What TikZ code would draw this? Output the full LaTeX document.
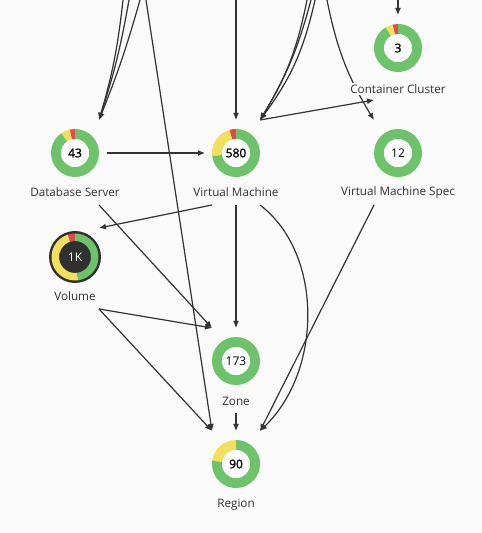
\documentclass[tikz,border=0pt]{standalone}
\usepackage{fontspec}
\setmainfont{Open Sans}
\newfontfamily\semib[FakeBold=1.6]{Open Sans}
\usetikzlibrary{arrows.meta,calc}
\definecolor{bg}{HTML}{FAFAFA}
\definecolor{gr}{HTML}{6CC36A}
\definecolor{ye}{HTML}{F2DF5B}
\definecolor{rd}{HTML}{E24A4A}
\definecolor{ink}{HTML}{333333}
\definecolor{dk}{HTML}{303030}
% annular sector: node, start angle, end angle, colour, outer r, inner r
\newcommand\dseg[6]{%
  \fill[#4] ($(#1.center)+(#2:#5)$) arc[start angle=#2,end angle=#3,radius=#5]
    -- ($(#1.center)+(#3:#6)$) arc[start angle=#3,end angle=#2,radius=#6] -- cycle;}
\tikzset{
  dn/.style={circle,minimum size=48pt,inner sep=0pt,outer sep=0pt},
  bx/.style={rectangle,minimum width=48pt,minimum height=85pt,inner sep=0pt,outer sep=0pt},
  lbl/.style={fill=bg,text=ink,font=\fontsize{11.7pt}{13pt}\selectfont,inner sep=1.5pt},
  num/.style={text=black,font=\fontsize{12pt}{14pt}\selectfont,inner sep=0pt},
  numb/.style={num,font=\fontsize{12pt}{14pt}\semib},
  edge/.style={draw=ink,line width=1.2pt,-{Latex[length=7pt,width=6pt]}},
}
\begin{document}
\begin{tikzpicture}[x=1pt,y=1pt]
\useasboundingbox (0,0) rectangle (482,533);
\fill[bg] (0,0) rectangle (482,533);
\clip (0,0) rectangle (482,533);
% donut positions
\node[dn] (ccd) at (398,485) {};
\node[dn] (dbd) at (75,380) {};
\node[dn] (vmd) at (236,380) {};
\node[dn] (vmsd) at (398,380) {};
\node[dn] (vold) at (75,276) {};
\node[dn] (zoned) at (236,172) {};
\node[dn] (regiond) at (236,69) {};
% connection boxes
\node[bx] (cc) at (398,475.5) {};
\node[bx] (db) at (75,370.5) {};
\node[bx] (vm) at (236,370.5) {};
\node[bx] (vms) at (398,370.5) {};
\node[bx] (vol) at (75,266.5) {};
\node[bx] (zone) at (236,162.5) {};
\node[bx] (region) at (236,59.5) {};
% off-picture sources
\coordinate (s1) at (123,533);
\coordinate (s2) at (129,533);
\coordinate (s3) at (140,533);
\coordinate (s4) at (146,533);
\coordinate (s5) at (236,533);
\coordinate (s6) at (307,533);
\coordinate (s7) at (311,533);
\coordinate (s8) at (315,533);
\coordinate (s9) at (327,533);
\coordinate (s10) at (398,533);
% edges
\draw[edge] (s1) to[bend left=5] (db.north east);
\draw[edge] (s2) to[bend left=4] (db.north east);
\draw[edge] (s3) to[bend left=3] (db.north east);
\draw[edge] (s4) -- (region.north west);
\draw[edge] (s5) -- (vm.north);
\draw[edge] (s6) to[bend left=10] (vm.north east);
\draw[edge] (s7) to[bend left=8] (vm.north east);
\draw[edge] (s8) to[bend left=12] (vm.north east);
\draw[edge] (s9) to[bend right=10] (vms.north west);
\draw[edge] (s10) -- (cc.north);
\draw[edge] (vm.north east) -- (cc.south west);
\draw[edge,shorten <=8pt,shorten >=7pt] (dbd.east) -- (vmd.west);
\draw[edge] (vm.south west) -- ([yshift=-4pt]vol.north east);
\draw[edge] (db.south east) -- (zone.north west);
\draw[edge] (vm.south) -- (zone.north);
\draw[edge] (vol.south east) -- (zone.north west);
\draw[edge] (vol.south east) -- (region.north west);
\draw[edge] (zone.south) -- (region.north);
\draw[edge] (vm.south east) .. controls +(63,-48) and +(63,61) .. (region.north east);
\draw[edge] (vms.south west) -- (region.north east);
% donuts
\dseg{dbd}{90}{103}{rd}{24pt}{14pt}
\dseg{dbd}{103}{125}{ye}{24pt}{14pt}
\dseg{dbd}{125}{450}{gr}{24pt}{14pt}
\fill[white] (dbd.center) circle[radius=14pt];
\dseg{vmd}{90}{106}{rd}{24pt}{14pt}
\dseg{vmd}{106}{188}{ye}{24pt}{14pt}
\dseg{vmd}{188}{450}{gr}{24pt}{14pt}
\fill[white] (vmd.center) circle[radius=14pt];
\dseg{ccd}{90}{103}{rd}{24pt}{14pt}
\dseg{ccd}{103}{121}{ye}{24pt}{14pt}
\dseg{ccd}{121}{450}{gr}{24pt}{14pt}
\fill[white] (ccd.center) circle[radius=14pt];
\dseg{vmsd}{90}{450}{gr}{24pt}{14pt}
\fill[white] (vmsd.center) circle[radius=14pt];
\dseg{zoned}{90}{450}{gr}{24pt}{14pt}
\fill[white] (zoned.center) circle[radius=14pt];
\dseg{regiond}{90}{172}{ye}{24pt}{14pt}
\dseg{regiond}{172}{450}{gr}{24pt}{14pt}
\fill[white] (regiond.center) circle[radius=14pt];
\fill[dk] (vold.center) circle[radius=26pt];
\dseg{vold}{90}{108}{rd}{23.5pt}{16pt}
\dseg{vold}{108}{278}{ye}{23.5pt}{16pt}
\dseg{vold}{278}{450}{gr}{23.5pt}{16pt}
% numbers
\node[numb] (ccn) at (ccd) {3};
\node[numb] (dbn) at (dbd) {43};
\node[numb] (vmn) at (vmd) {580};
\node[num] (vmsn) at (vmsd) {12};
\node[num,text=white] (voln) at (vold) {1K};
\node[num] (zonen) at (zoned) {173};
\node[numb] (regionn) at (regiond) {90};
% labels
\node[lbl] (ccl) at (398,444) {Container Cluster};
\node[lbl] (dbl) at (75,341) {Database Server};
\node[lbl] (vml) at (236,341) {Virtual Machine};
\node[lbl] (vmsl) at (398,341) {Virtual Machine Spec};
\node[lbl] (voll) at (75,237) {Volume};
\node[lbl] (zonel) at (236,132) {Zone};
\node[lbl] (regionl) at (236,28) {Region};
\end{tikzpicture}
\end{document}
